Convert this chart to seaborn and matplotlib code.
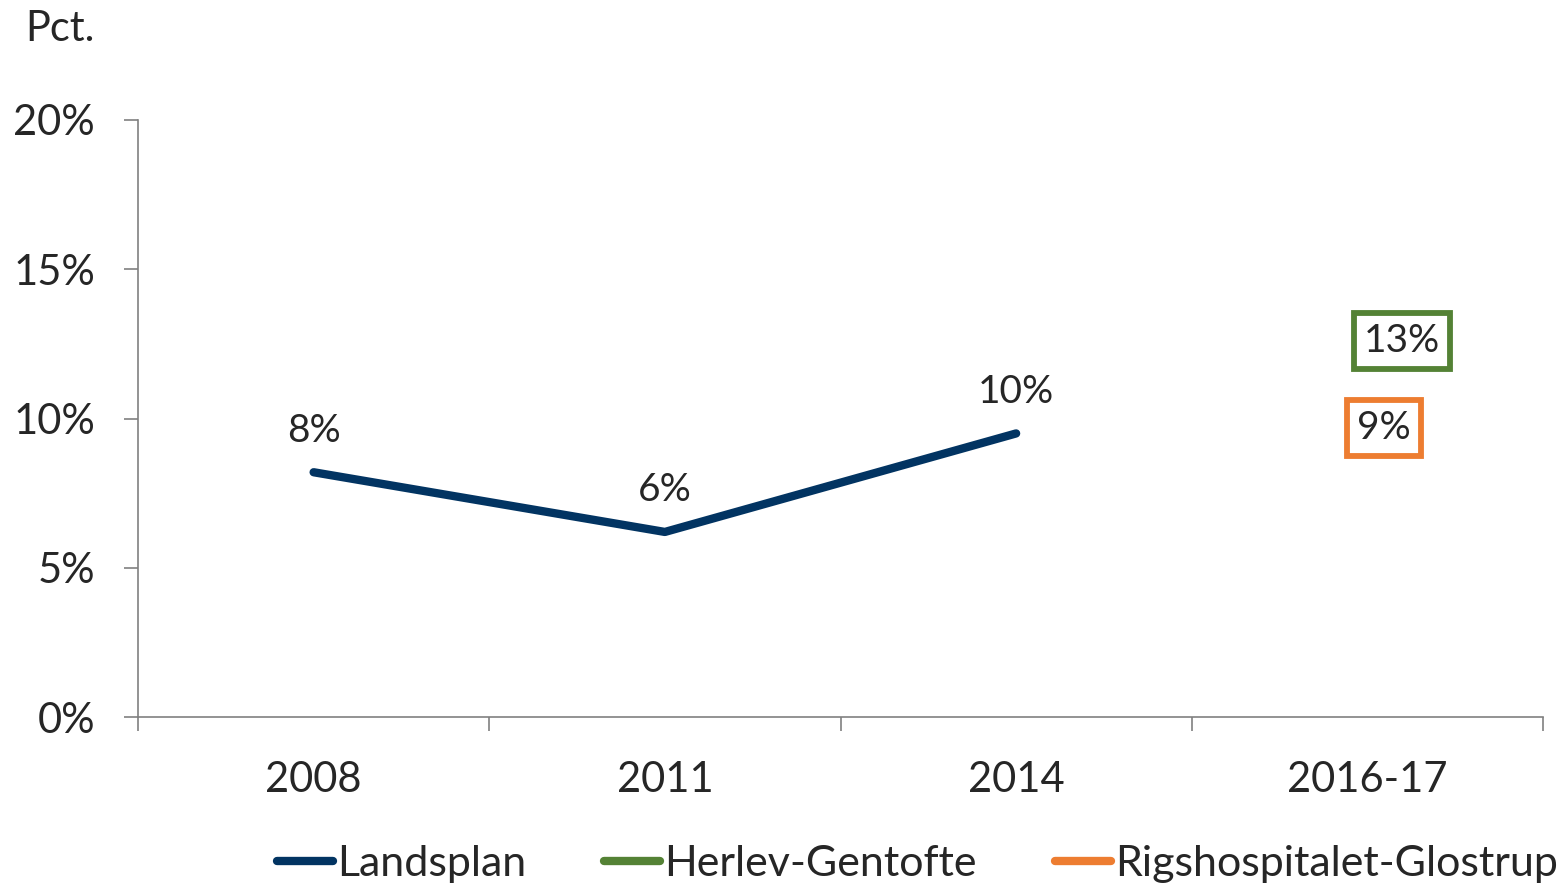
import matplotlib
matplotlib.use("Agg")
import matplotlib.pyplot as plt
import seaborn as sns
import pandas as pd
from matplotlib.lines import Line2D
from matplotlib.ticker import FixedLocator, FuncFormatter

categories = ["2008", "2011", "2014", "2016-17"]
landsplan = [8.2, 6.2, 9.5]
herlev = 12.6
rigs = 9.4
series_names = ["Landsplan", "Herlev-Gentofte", "Rigshospitalet-Glostrup"]
colors = ["#023462", "#548235", "#ED7D31"]
yticks = [0, 5, 10, 15, 20]

sns.set_style("white")
plt.rcParams['font.family'] = ['Lato', 'DejaVu Sans']

fig = plt.figure(figsize=(15.63, 8.86), dpi=100)
ax = fig.add_axes([0.0883, 0.1907, 0.8989, 0.6739])

df = pd.DataFrame({"x": list(range(len(landsplan))), "y": landsplan})
sns.lineplot(data=df, x="x", y="y", ax=ax, color=colors[0], linewidth=6,
             solid_capstyle="round")

for i, v in enumerate(landsplan):
    ax.annotate(f"{v:.0f}%", (i, v), xytext=(0, 30), textcoords="offset points",
                ha="center", va="center", fontsize=28, color="#262626")

ax.annotate(f"{herlev:.0f}%", (3, herlev), xytext=(25, 0), textcoords="offset points",
            ha="center", va="center", fontsize=28, color="#262626",
            bbox=dict(boxstyle="square,pad=0.25", fc="white", ec=colors[1], lw=4.2))
ax.annotate(f"{rigs:.0f}%", (3, rigs), xytext=(12, 6), textcoords="offset points",
            ha="center", va="center", fontsize=28, color="#262626",
            bbox=dict(boxstyle="square,pad=0.25", fc="white", ec=colors[2], lw=4.2))

ax.set_xlim(-0.5, 3.5)
ax.set_ylim(0, 20)
ax.set_xticks(range(len(categories)))
ax.set_xticklabels(categories)
ax.xaxis.set_minor_locator(FixedLocator([-0.5, 0.5, 1.5, 2.5, 3.5]))
ax.tick_params(axis="x", which="major", bottom=True, length=0, labelsize=30, pad=32,
               colors="#262626")
ax.tick_params(axis="x", which="minor", bottom=True, length=10, width=1.2,
               color="#808080", direction="out")
ax.set_yticks(yticks)
ax.yaxis.set_major_formatter(FuncFormatter(lambda v, p: f"{v:.0f}%"))
ax.tick_params(axis="y", left=True, length=10, width=1.2, color="#808080", labelsize=30,
               labelcolor="#262626", pad=21, direction="out")
ax.set_xlabel("")
ax.set_ylabel("")
for s in ["top", "right"]:
    ax.spines[s].set_visible(False)
for s in ["left", "bottom"]:
    ax.spines[s].set_color("#808080")
    ax.spines[s].set_linewidth(1.2)

fig.text(0.016, 0.967, "Pct.", fontsize=30, color="#262626", va="center", ha="left")

handles = [Line2D([0], [0], color=c, lw=6, solid_capstyle="round") for c in colors]
leg = fig.legend(handles, series_names, loc="center", bbox_to_anchor=(0.587, 0.025),
                 ncol=3, frameon=False, fontsize=31, handlelength=1.3,
                 handletextpad=0.1, columnspacing=1.8, labelcolor="#262626",
                 borderaxespad=0, borderpad=0)

fig.savefig("out.png", dpi=100)
